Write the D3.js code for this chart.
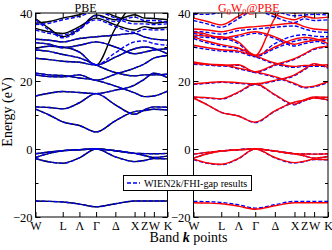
<!DOCTYPE html>
<html>
<head>
<meta charset="utf-8">
<script src="https://cdn.jsdelivr.net/npm/d3@7"></script>
<style>
  body { margin: 0; background: #fff; }
  text { font-family: "Liberation Serif", "Times New Roman", serif; }
</style>
</head>
<body>
<script>
// k-path W-L-Γ-X-W-K (fcc), path length in units of 2π/a
const kSamples = [0, 0.354, 0.707, 1.140, 1.573, 2.073, 2.573, 2.823, 3.073, 3.427];
const kTicks = [0, 0.707, 1.140, 1.573, 2.073, 2.573, 2.823, 3.073, 3.427];
const kLabels = ["W", "L", "Λ", "Γ", "Δ", "X", "Z", "W", "K"];
const energyTicks = [-20, 0, 20, 40];
const energyMinor = [-10, 10, 30];

// PBE, our code (black)
const pbeOurs = [
  [-15.3, -15.4, -15.6, -16.2, -17.0, -16.1, -15.3, -15.3, -15.3, -15.3],
  [-1.4, -0.9, -0.5, -0.2, 0.0, -0.5, -1.3, -1.35, -1.4, -1.3],
  [-2.5, -1.3, -0.5, -0.2, 0.0, -0.5, -1.3, -1.9, -2.5, -2.1],
  [-2.8, -3.8, -4.2, -2.6, 0.0, -2.3, -3.7, -3.4, -2.8, -2.9],
  [11.7, 10.0, 8.0, 6.9, 5.0, 8.3, 11.0, 11.3, 11.7, 11.5],
  [12.4, 12.2, 11.8, 13.6, 16.3, 13.0, 10.2, 11.5, 12.4, 12.3],
  [15.6, 16.4, 16.9, 16.6, 16.3, 17.3, 18.8, 20.5, 22.3, 21.0],
  [21.8, 21.3, 21.2, 21.8, 20.2, 22.0, 23.8, 25.0, 26.7, 27.5],
  [22.3, 21.8, 21.6, 20.9, 20.2, 18.5, 16.5, 15.4, 15.6, 17.0],
  [26.7, 26.3, 25.8, 25.5, 24.7, 27.0, 29.5, 30.0, 29.6, 28.0],
  [29.1, 28.7, 27.8, 26.8, 24.7, 22.5, 21.5, 21.8, 21.8, 22.0],
  [29.6, 30.2, 30.0, 28.5, 24.7, 35.5, 42.0, 42.0, 42.0, 42.0],
  [31.3, 30.8, 29.8, 30.5, 31.5, 30.0, 28.0, 28.5, 29.1, 29.5],
  [32.3, 32.0, 31.5, 32.5, 33.0, 33.5, 34.0, 33.0, 32.3, 32.0],
  [35.5, 34.5, 34.0, 36.0, 38.5, 36.5, 35.0, 36.0, 35.5, 35.8],
  [37.0, 37.5, 38.5, 39.5, 41.0, 39.0, 37.5, 37.5, 37.0, 37.5],
  [38.4, 35.5, 33.0, 35.3, 39.4, 38.0, 39.5, 38.5, 38.4, 38.0]
];

// PBE, WIEN2k (blue dashed)
const pbeWien = [
  [-15.3, -15.4, -15.6, -16.2, -17.0, -16.1, -15.3, -15.3, -15.3, -15.3],
  [-1.4, -0.9, -0.5, -0.2, 0.0, -0.5, -1.3, -1.35, -1.4, -1.3],
  [-2.5, -1.3, -0.5, -0.2, 0.0, -0.5, -1.3, -1.9, -2.5, -2.1],
  [-2.8, -3.8, -4.2, -2.6, 0.0, -2.3, -3.7, -3.4, -2.8, -2.9],
  [11.7, 10.0, 8.0, 6.9, 5.0, 8.3, 11.0, 11.3, 11.7, 11.5],
  [12.4, 12.2, 11.8, 13.6, 16.3, 13.0, 10.2, 11.5, 12.4, 12.3],
  [15.6, 16.4, 16.9, 16.6, 16.3, 17.3, 18.8, 20.5, 22.3, 21.0],
  [21.8, 21.3, 21.2, 21.8, 20.2, 22.0, 23.8, 25.0, 26.7, 27.5],
  [22.3, 21.8, 21.6, 20.9, 20.2, 18.5, 16.5, 15.4, 15.6, 17.0],
  [26.7, 26.3, 25.8, 25.5, 24.7, 27.0, 29.5, 30.0, 29.6, 28.0],
  [29.1, 28.7, 27.8, 26.8, 24.7, 22.5, 21.5, 21.8, 21.8, 22.0],
  [29.6, 30.2, 30.0, 28.5, 24.7, 28.3, 31.5, 31.8, 31.0, 30.5],
  [31.3, 30.8, 29.8, 30.5, 31.5, 30.0, 28.0, 28.5, 29.1, 29.5],
  [32.3, 32.0, 31.5, 32.5, 33.0, 33.5, 34.0, 33.0, 32.3, 32.0],
  [35.0, 34.0, 33.5, 35.5, 38.0, 36.0, 34.3, 35.2, 35.0, 35.2],
  [36.6, 37.0, 38.0, 39.0, 40.5, 38.5, 36.8, 36.8, 36.6, 36.8],
  [38.0, 35.0, 32.7, 35.0, 39.2, 37.5, 38.8, 37.8, 37.8, 37.2]
];

// G0W0@PBE, our code (red)
const gwOurs = [
  [-15.8, -15.9, -16.1, -16.8, -17.7, -16.7, -15.8, -15.8, -15.8, -15.8],
  [-1.5, -1.0, -0.6, -0.2, 0.0, -0.6, -1.4, -1.45, -1.5, -1.4],
  [-2.7, -1.4, -0.6, -0.2, 0.0, -0.6, -1.4, -2.0, -2.7, -2.2],
  [-3.0, -4.1, -4.5, -2.8, 0.0, -2.5, -4.0, -3.6, -3.0, -3.1],
  [15.0, 13.0, 10.8, 9.7, 7.9, 11.2, 13.8, 14.3, 15.0, 14.5],
  [15.3, 15.1, 14.8, 16.7, 19.2, 16.0, 13.2, 14.5, 15.3, 15.2],
  [19.2, 19.5, 19.8, 19.5, 19.2, 20.2, 21.8, 23.5, 25.1, 24.0],
  [25.6, 25.0, 24.6, 24.8, 22.7, 24.8, 26.6, 28.0, 29.5, 30.2],
  [25.1, 24.9, 24.8, 23.8, 22.7, 21.3, 19.3, 18.2, 18.5, 19.8],
  [30.5, 29.8, 29.2, 28.8, 27.5, 30.0, 32.3, 32.8, 32.5, 31.0],
  [33.0, 31.7, 30.7, 29.7, 27.5, 25.3, 24.3, 24.6, 24.6, 24.8],
  [33.5, 33.2, 33.0, 31.5, 27.5, 38.5, 44.0, 44.0, 44.0, 44.0],
  [34.4, 33.7, 32.6, 33.5, 34.5, 33.0, 30.8, 31.5, 32.0, 32.5],
  [35.3, 35.0, 34.5, 35.5, 36.0, 36.5, 37.0, 36.0, 35.3, 35.0],
  [38.5, 37.5, 36.5, 39.0, 41.5, 39.5, 38.0, 39.0, 38.5, 38.8],
  [40.5, 40.5, 41.0, 42.0, 43.5, 41.5, 40.0, 40.2, 40.5, 40.2]
];

// G0W0@PBE, WIEN2k/FHI-gap (blue dashed)
const gwWien = [
  [-15.4, -15.5, -15.7, -16.4, -17.4, -16.4, -15.4, -15.4, -15.4, -15.4],
  [-1.5, -1.0, -0.6, -0.2, 0.0, -0.6, -1.4, -1.45, -1.5, -1.4],
  [-2.7, -1.4, -0.6, -0.2, 0.0, -0.6, -1.4, -2.0, -2.7, -2.2],
  [-3.1, -4.2, -4.6, -2.9, 0.0, -2.6, -4.1, -3.7, -3.1, -3.2],
  [15.0, 13.0, 10.8, 9.7, 7.8, 11.1, 13.7, 14.2, 15.0, 14.4],
  [15.2, 15.0, 14.7, 16.6, 19.0, 15.9, 13.0, 14.3, 15.2, 15.1],
  [19.0, 19.3, 19.6, 19.3, 19.0, 20.0, 21.6, 23.3, 24.9, 23.8],
  [25.4, 24.8, 24.4, 24.6, 22.5, 24.6, 26.4, 27.8, 29.3, 30.0],
  [24.9, 24.7, 24.6, 23.6, 22.5, 21.1, 19.1, 18.0, 18.3, 19.6],
  [30.0, 29.3, 28.8, 28.5, 27.2, 29.5, 31.7, 32.2, 31.9, 30.5],
  [32.5, 31.2, 30.3, 29.4, 27.2, 25.0, 24.0, 24.3, 24.3, 24.5],
  [33.0, 32.8, 32.6, 31.0, 27.2, 31.0, 33.3, 33.6, 33.2, 33.0],
  [34.0, 33.2, 32.2, 33.0, 34.0, 32.5, 30.3, 31.0, 31.5, 32.0],
  [34.6, 34.3, 33.8, 34.8, 35.3, 35.8, 36.2, 35.3, 34.6, 34.3],
  [37.8, 36.8, 35.8, 38.3, 40.8, 38.8, 37.2, 38.3, 37.8, 38.0],
  [39.6, 39.6, 40.2, 41.2, 42.7, 40.7, 39.2, 39.4, 39.6, 39.4]
];

const width = 332, height = 250;
const plotTop = 13, plotBottom = 217;

const svg = d3.select("body").append("svg")
  .attr("width", width)
  .attr("height", height);

const y = d3.scaleLinear().domain([-20, 40]).range([plotBottom, plotTop]);

const panels = [
  { id: "pbe", left: 35.5, right: 167.5, ours: pbeOurs, wien: pbeWien, color: "#000", oursOnTop: false },
  { id: "gw", left: 193.5, right: 328, ours: gwOurs, wien: gwWien, color: "#ff0000", oursOnTop: true }
];

panels.forEach(p => {
  const x = d3.scaleLinear().domain([0, 3.427]).range([p.left, p.right]);
  const g = svg.append("g");

  g.append("clipPath").attr("id", "clip-" + p.id)
    .append("rect")
    .attr("x", p.left).attr("y", plotTop)
    .attr("width", p.right - p.left).attr("height", plotBottom - plotTop);

  const line = d3.line()
    .x((d, i) => x(kSamples[i]))
    .y(d => y(d))
    .curve(d3.curveMonotoneX);

  const bands = g.append("g").attr("clip-path", `url(#clip-${p.id})`);

  const drawOurs = () => bands.append("g").selectAll("path")
    .data(p.ours).join("path")
    .attr("d", line)
    .attr("fill", "none")
    .attr("stroke", p.color)
    .attr("stroke-width", 1.4);

  const drawWien = () => bands.append("g").selectAll("path")
    .data(p.wien).join("path")
    .attr("d", line)
    .attr("fill", "none")
    .attr("stroke", "#0000ff")
    .attr("stroke-width", 1.4)
    .attr("stroke-dasharray", "4,2");

  if (p.oursOnTop) { drawWien(); drawOurs(); } else { drawOurs(); drawWien(); }

  // axes, ticks pointing inward
  g.append("g")
    .attr("transform", `translate(0,${plotBottom})`)
    .call(d3.axisBottom(x).tickValues(kTicks).tickFormat((d, i) => kLabels[i]).tickSize(-5).tickPadding(4))
    .call(a => a.select(".domain").remove())
    .selectAll("text").attr("font-size", 12).attr("font-family", "Liberation Serif");

  g.append("g")
    .attr("transform", `translate(0,${plotTop})`)
    .call(d3.axisTop(x).tickValues(kTicks).tickFormat("").tickSize(-5))
    .call(a => a.select(".domain").remove());

  g.append("g")
    .attr("transform", `translate(${p.left},0)`)
    .call(d3.axisLeft(y).tickValues(energyTicks).tickSize(-5).tickPadding(3))
    .call(a => a.select(".domain").remove())
    .selectAll("text").attr("font-size", 12.5).attr("font-family", "Liberation Serif");

  g.append("g")
    .attr("transform", `translate(${p.left},0)`)
    .call(d3.axisLeft(y).tickValues(energyMinor).tickFormat("").tickSize(-3))
    .call(a => a.select(".domain").remove());

  g.append("g")
    .attr("transform", `translate(${p.right},0)`)
    .call(d3.axisRight(y).tickValues(energyTicks).tickFormat("").tickSize(-5))
    .call(a => a.select(".domain").remove());

  g.append("g")
    .attr("transform", `translate(${p.right},0)`)
    .call(d3.axisRight(y).tickValues(energyMinor).tickFormat("").tickSize(-3))
    .call(a => a.select(".domain").remove());

  g.append("rect")
    .attr("x", p.left).attr("y", plotTop)
    .attr("width", p.right - p.left).attr("height", plotBottom - plotTop)
    .attr("fill", "none").attr("stroke", "#000").attr("stroke-width", 1);
});

// titles
svg.append("text")
  .attr("x", 85.5).attr("y", 11.5)
  .attr("text-anchor", "middle")
  .attr("font-size", 12)
  .text("PBE");

const gwTitle = svg.append("text")
  .attr("x", 218).attr("y", 11.5)
  .attr("font-size", 12)
  .attr("fill", "#ff0000");
gwTitle.append("tspan").text("G");
gwTitle.append("tspan").attr("font-size", 8.5).attr("dy", 3).text("0");
gwTitle.append("tspan").attr("dy", -3).text("W");
gwTitle.append("tspan").attr("font-size", 8.5).attr("dy", 3).text("0");
gwTitle.append("tspan").attr("dy", -3).text("@PBE");

// axis titles
svg.append("text")
  .attr("transform", "translate(12,112) rotate(-90)")
  .attr("text-anchor", "middle")
  .attr("font-size", 14)
  .text("Energy (eV)");

const xTitle = svg.append("text")
  .attr("x", 188.5).attr("y", 242)
  .attr("text-anchor", "middle")
  .attr("font-size", 14);
xTitle.append("tspan").text("Band ");
xTitle.append("tspan").attr("font-weight", "bold").attr("font-style", "italic").text("k");
xTitle.append("tspan").text(" points");

// legend
const legend = svg.append("g");
legend.append("rect")
  .attr("x", 123.5).attr("y", 175.5)
  .attr("width", 128).attr("height", 15)
  .attr("fill", "#fff").attr("stroke", "#000").attr("stroke-width", 1);
legend.append("line")
  .attr("x1", 127).attr("x2", 140)
  .attr("y1", 183).attr("y2", 183)
  .attr("stroke", "#0000ff").attr("stroke-width", 1.4)
  .attr("stroke-dasharray", "4,2");
legend.append("text")
  .attr("x", 144).attr("y", 186.5)
  .attr("font-size", 10.2)
  .text("WIEN2k/FHI-gap results");
</script>
</body>
</html>
